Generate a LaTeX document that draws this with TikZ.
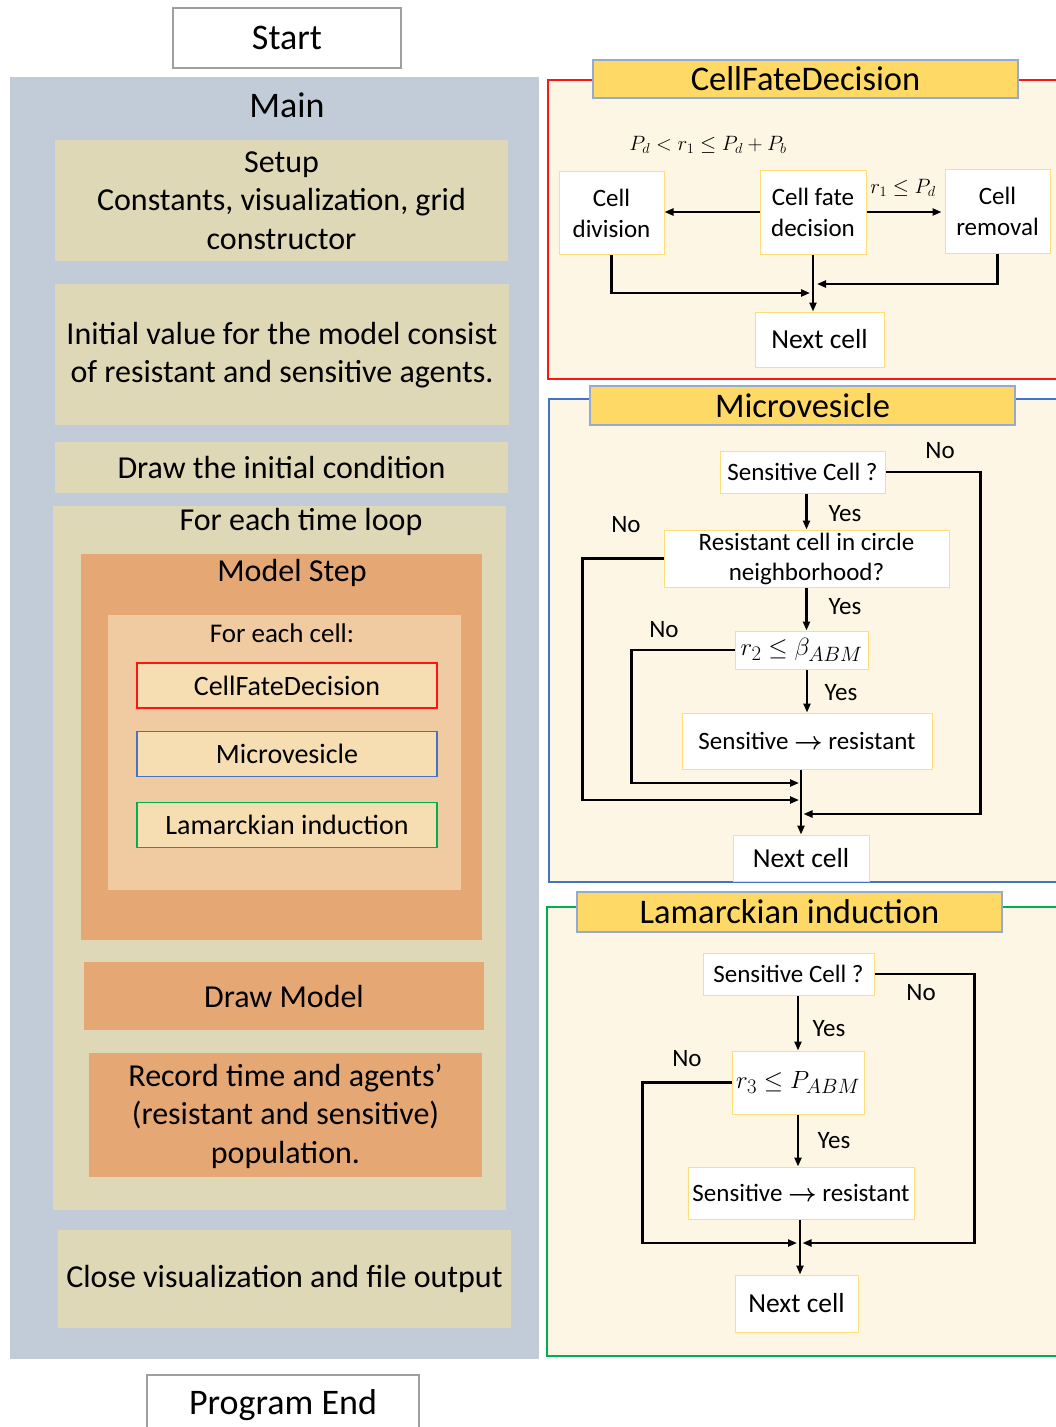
\documentclass[tikz,border=0pt]{standalone}
\usepackage{fontspec}
\setmainfont{Carlito}
\usepackage{amsmath}
\usepackage{tikz}
\usetikzlibrary{arrows.meta,positioning,calc}

\definecolor{mainblue}{RGB}{194,204,217}
\definecolor{khaki}{RGB}{222,216,182}
\definecolor{orng}{RGB}{229,168,116}
\definecolor{lorng}{RGB}{240,202,160}
\definecolor{pale}{RGB}{246,222,178}
\definecolor{cream}{RGB}{254,246,228}
\definecolor{gold}{RGB}{255,217,102}
\definecolor{headline}{RGB}{150,170,205}
\definecolor{boxline}{RGB}{255,222,120}
\definecolor{redl}{RGB}{255,20,20}
\definecolor{bluel}{RGB}{68,114,196}
\definecolor{greenl}{RGB}{0,176,80}

\begin{document}
\begin{tikzpicture}[x=1pt, y=-1pt,
  bg/.style={fill=#1, inner sep=0pt},
  big/.style={font=\fontsize{32}{38.5}\selectfont, align=center, inner sep=0pt},
  mid/.style={font=\fontsize{28}{33}\selectfont, align=center, inner sep=0pt},
  termbox/.style={draw=gray!75, line width=1.2pt, fill=white,
    font=\fontsize{36}{42}\selectfont, inner sep=0pt},
  sub/.style={fill=pale, line width=1.2pt, font=\fontsize{28}{33}\selectfont,
    minimum width=300, minimum height=45, inner sep=0pt},
  frame/.style={draw=#1, line width=1.2pt, fill=cream, inner sep=0pt},
  head/.style={draw=headline, line width=1.2pt, fill=gold,
    font=\fontsize{34.5}{40}\selectfont, minimum width=425, inner sep=0pt},
  cbox/.style={draw=boxline, line width=1pt, fill=white, align=center,
    font=\fontsize{25}{31}\selectfont, inner sep=0pt},
  arr/.style={-{Triangle[length=9pt, width=7pt]}, line width=2.2pt},
  lbl/.style={font=\fontsize{25}{30}\selectfont, inner sep=0pt},
]
  \useasboundingbox (0,0) rectangle (1056,1427);

  % Main program column
  \node[termbox, minimum width=228, minimum height=60] (start) at (287,38) {Start};
  \node[bg=mainblue, minimum width=529, minimum height=1282] (main) at (274.5,718) {};
  \node[big, font=\fontsize{36}{42}\selectfont] (maint) at (287,105) {Main};
  \node[bg=khaki, minimum width=453, minimum height=121] (setup) at (281.5,200.5) {};
  \node[big] (setupt) at (281.5,200.5) {Setup\\Constants, visualization, grid\\constructor};
  \node[bg=khaki, minimum width=454, minimum height=141] (init) at (282,354.5) {};
  \node[big] (initt) at (282,355) {Initial value for the model consist\\of resistant and sensitive agents.};
  \node[bg=khaki, big, minimum width=453, minimum height=51] (drawic) at (281.5,467.5) {Draw the initial condition};

  % Time loop
  \node[bg=khaki, minimum width=453, minimum height=704] (loop) at (279.5,858) {};
  \node[big] (loopt) at (301,522) {For each time loop};
  \node[bg=orng, minimum width=401, minimum height=386] (mstep) at (281.5,747) {};
  \node[big] (mstept) at (292,573) {Model Step};
  \node[bg=lorng, minimum width=353, minimum height=275] (cell) at (284.5,752.5) {};
  \node[mid, font=\fontsize{27}{33}\selectfont] (cellt) at (282,633) {For each cell:};
  \foreach \n/\y/\c/\t in {sfd/685.5/redl/CellFateDecision,
      smv/754/bluel/Microvesicle, sli/825/greenl/Lamarckian induction} {
    \node[sub, draw=\c] (\n) at (287,\y) {\t};
  }
  \node[bg=orng, big, minimum width=400, minimum height=68] (drawm) at (284,996) {Draw Model};
  \node[bg=orng, minimum width=393, minimum height=124] (rec) at (285.5,1115) {};
  \node[big] (rect) at (285.5,1116) {Record time and agents'\\(resistant and sensitive)\\population.};
  \node[bg=khaki, big, minimum width=453, minimum height=98] (close) at (284.5,1279) {Close visualization and file output};
  \node[termbox, minimum width=272, minimum height=62] (pend) at (283,1406) {};
  \node[big, font=\fontsize{36}{42}\selectfont] (pendt) at (283,1405) {Program End};

  % CellFateDecision
  \node[frame=redl, minimum width=514, minimum height=299] (cfbox) at (805,229.5) {};
  \node[head, minimum height=38] (cfhead) at (805.5,79) {CellFateDecision};
  \node[lbl, font=\fontsize{22}{26}\selectfont] (cfcond) at (708,145) {$P_d < r_1 \le P_d + P_b$};
  \node[cbox, minimum width=105, minimum height=83] (cdiv) at (611.5,213) {Cell\\division};
  \node[cbox, minimum width=106, minimum height=84] (cfd) at (813,212) {Cell fate\\decision};
  \node[cbox, minimum width=105, minimum height=84] (crem) at (997.5,211) {Cell\\removal};
  \node[lbl, font=\fontsize{22}{26}\selectfont] (cfr) at (903,188) {$r_1 \le P_d$};
  \node[cbox, font=\fontsize{27.5}{31}\selectfont, minimum width=129, minimum height=55] (cnext) at (819.5,339.5) {Next cell};
  \coordinate (cj1) at (810,293);
  \coordinate (cj2) at (817,284);
  \draw[arr] (cfd.west) -- (cdiv.east |- cfd.west);
  \draw[arr] (cfd.east) -- ([xshift=-3pt]crem.west |- cfd.east);
  \draw[arr] (cdiv.south) |- (cj1);
  \draw[arr] (crem.south) |- (cj2);
  \draw[arr] (cfd.south) -- (cfd.south |- cnext.north);

  % Microvesicle
  \node[frame=bluel, minimum width=513, minimum height=483] (mvbox) at (805.5,640.5) {};
  \node[head, minimum height=39] (mvhead) at (802.5,405.5) {Microvesicle};
  \node[cbox, minimum width=165, minimum height=42] (msens) at (802.5,472) {Sensitive Cell ?};
  \node[cbox, minimum width=285, minimum height=57, font=\fontsize{25}{30}\selectfont] (mres) at (806.5,558.5) {Resistant cell in circle\\neighborhood?};
  \node[cbox, minimum width=133, minimum height=38, font=\fontsize{29}{30}\selectfont] (mr2) at (801.5,650) {$r_2 \le \beta_{ABM}$};
  \node[cbox, minimum width=250, minimum height=56] (msr) at (807,741) {Sensitive $\boldsymbol{\rightarrow}$ resistant};
  \node[cbox, font=\fontsize{27.5}{31}\selectfont, minimum width=136, minimum height=46] (mnext) at (801,858) {Next cell};
  \node[lbl] (mno1) at (940,451) {No};
  \node[lbl] (myes1) at (845,514) {Yes};
  \node[lbl] (mno2) at (626,525) {No};
  \node[lbl] (myes2) at (845,607) {Yes};
  \node[lbl] (mno3) at (664,630) {No};
  \node[lbl] (myes3) at (841,693) {Yes};
  \coordinate (mjr) at (803.5,814);
  \coordinate (mjl1) at (799,783);
  \coordinate (mjl2) at (799,800);
  \draw[arr] (mres.north |- msens.south) -- (mres.north);
  \draw[arr] (mres.south) -- (mres.south |- mr2.north);
  \draw[arr] (msr.north |- mr2.south) -- (msr.north);
  \draw[arr] (msr.south -| mnext.north) -- (mnext.north);
  \draw[arr] (msens.east) -- ++(95,0) |- (mjr);
  \draw[arr] (mres.west) -- ++(-81,0) |- (mjl2);
  \draw[arr] (mr2.west) -- ++(-103,0) |- (mjl1);

  % Lamarckian induction
  \node[frame=greenl, minimum width=515, minimum height=449] (libox) at (804.5,1131.5) {};
  \node[head, minimum height=40] (lihead) at (789.5,912) {Lamarckian induction};
  \node[cbox, minimum width=171, minimum height=42] (lsens) at (788.5,974) {Sensitive Cell ?};
  \node[cbox, minimum width=132, minimum height=63, font=\fontsize{29}{30}\selectfont] (lr3) at (798,1082.5) {$r_3 \le P_{ABM}$};
  \node[cbox, minimum width=226, minimum height=52] (lsr) at (801,1193) {Sensitive $\boldsymbol{\rightarrow}$ resistant};
  \node[cbox, font=\fontsize{27.5}{31}\selectfont, minimum width=123, minimum height=57] (lnext) at (796.5,1303.5) {Next cell};
  \node[lbl] (lno1) at (921,993) {No};
  \node[lbl] (lyes1) at (829,1029) {Yes};
  \node[lbl] (lno2) at (687,1059) {No};
  \node[lbl] (lyes2) at (834,1141) {Yes};
  \coordinate (ljr) at (802.5,1243);
  \coordinate (ljl) at (797,1243);
  \draw[arr] (lr3.north |- lsens.south) -- (lr3.north);
  \draw[arr] (lr3.south) -- (lr3.south |- lsr.north);
  \draw[arr] ([xshift=-1pt]lsr.south) -- ([xshift=-1pt]lsr.south |- lnext.north);
  \draw[arr] (lsens.east) -- ++(100,0) |- (ljr);
  \draw[arr] (lr3.west) -- ++(-89,0) |- (ljl);
\end{tikzpicture}
\end{document}
